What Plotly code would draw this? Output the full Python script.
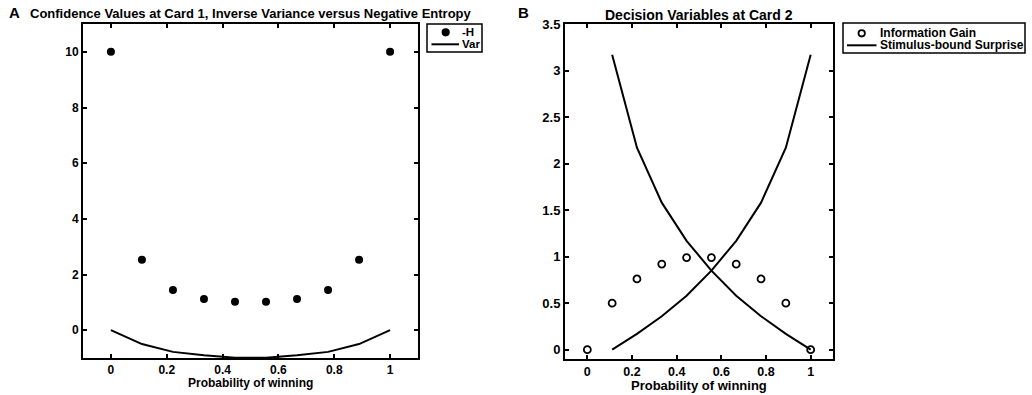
import plotly.graph_objects as go

# ---- data ----
p_all = [0, 1/9, 2/9, 3/9, 4/9, 5/9, 6/9, 7/9, 8/9, 1]
neg_H = [10, 2.53, 1.44, 1.12, 1.02, 1.02, 1.12, 1.44, 2.53, 10]
var_vals = [0, -0.50, -0.78, -0.90, -0.99, -0.99, -0.90, -0.78, -0.50, 0]

info_gain = [0, 0.50, 0.76, 0.92, 0.99, 0.99, 0.92, 0.76, 0.50, 0]
p_surp = [1/9, 2/9, 3/9, 4/9, 5/9, 6/9, 7/9, 8/9, 1]
surprise_down = [3.17, 2.17, 1.58, 1.17, 0.85, 0.58, 0.36, 0.17, 0]
surprise_up = [0, 0.17, 0.36, 0.58, 0.85, 1.17, 1.58, 2.17, 3.17]

x_ticks = [0, 0.2, 0.4, 0.6, 0.8, 1]
x_tick_text = ["0", "0.2", "0.4", "0.6", "0.8", "1"]
yA_ticks = [0, 2, 4, 6, 8, 10]
yB_ticks = [0, 0.5, 1, 1.5, 2, 2.5, 3, 3.5]
yB_tick_text = ["0", "0.5", "1", "1.5", "2", "2.5", "3", "3.5"]

legendA_labels = ["-H", "Var"]
legendB_labels = ["Information Gain", "Stimulus-bound Surprise"]

FONT = "Liberation Sans"
W, H = 1032, 395


def fx(v):
    return v / W


def fy(v):
    return 1 - v / H


def bold(size):
    return dict(family=FONT, size=size, color="black", weight="bold")


fig = go.Figure()

fig.add_trace(go.Scatter(x=p_all, y=neg_H, mode="markers", name=legendA_labels[0],
                         marker=dict(symbol="circle", size=8, color="black"),
                         xaxis="x", yaxis="y", showlegend=False))
fig.add_trace(go.Scatter(x=p_all, y=var_vals, mode="lines", name=legendA_labels[1],
                         line=dict(color="black", width=2),
                         xaxis="x", yaxis="y", showlegend=False))

fig.add_trace(go.Scatter(x=p_all, y=info_gain, mode="markers", name=legendB_labels[0],
                         marker=dict(symbol="circle-open", size=7, color="black",
                                     line=dict(width=1.8, color="black")),
                         xaxis="x2", yaxis="y2", showlegend=False))
fig.add_trace(go.Scatter(x=p_surp, y=surprise_down, mode="lines", name=legendB_labels[1],
                         line=dict(color="black", width=2),
                         xaxis="x2", yaxis="y2", showlegend=False))
fig.add_trace(go.Scatter(x=p_surp, y=surprise_up, mode="lines", name=legendB_labels[1],
                         line=dict(color="black", width=2), showlegend=False,
                         xaxis="x2", yaxis="y2"))


def axis_common(fs):
    return dict(showline=True, linecolor="black", linewidth=2, mirror="ticks",
                ticks="inside", ticklen=4, tickwidth=1.5, tickcolor="black",
                showgrid=False, zeroline=False, tickfont=bold(fs), automargin=False)


fig.update_layout(
    width=W, height=H,
    margin=dict(l=0, r=0, t=0, b=0),
    paper_bgcolor="white", plot_bgcolor="white",
    showlegend=False,
    xaxis=dict(domain=[fx(83), fx(418)], range=[-0.1, 1.1],
               tickvals=x_ticks, ticktext=x_tick_text, anchor="y", **axis_common(12)),
    yaxis=dict(domain=[fy(358), fy(24)], range=[-1, 11], tickvals=yA_ticks, anchor="x",
               **axis_common(12)),
    xaxis2=dict(domain=[fx(565), fx(833)], range=[-0.1, 1.1],
                tickvals=x_ticks, ticktext=x_tick_text, anchor="y2", **axis_common(12.5)),
    yaxis2=dict(domain=[fy(359), fy(24)], range=[-0.1, 3.5], tickvals=yB_ticks,
                ticktext=yB_tick_text, anchor="x2", **axis_common(13)),
)

annotations = [
    dict(text="A", x=fx(7), y=fy(13), xanchor="left", yanchor="middle", font=bold(15)),
    dict(text="B", x=fx(516), y=fy(13), xanchor="left", yanchor="middle", font=bold(15)),
    dict(text="Confidence Values at Card 1, Inverse Variance versus Negative Entropy",
         x=fx(251), y=fy(14), xanchor="center", yanchor="middle", font=bold(13)),
    dict(text="Decision Variables at Card 2",
         x=fx(699), y=fy(15), xanchor="center", yanchor="middle", font=bold(14)),
    dict(text="Probability of winning", x=fx(250.5), y=fy(382.5), xanchor="center",
         yanchor="middle", font=bold(12)),
    dict(text="Probability of winning", x=fx(699), y=fy(385), xanchor="center",
         yanchor="middle", font=bold(13)),
]

shapes = []


# ---- compact legends (MATLAB style) ----
def add_legend(box, marker_x, line_x0, line_x1, text_x, row_y, labels, filled, fs):
    x0, y0, x1, y1 = box
    shapes.append(dict(type="rect", xref="paper", yref="paper",
                       x0=fx(x0), x1=fx(x1), y0=fy(y1), y1=fy(y0),
                       line=dict(color="black", width=1.5), fillcolor="white", layer="above"))
    r = 3.2
    shapes.append(dict(type="circle", xref="paper", yref="paper",
                       x0=fx(marker_x - r), x1=fx(marker_x + r),
                       y0=fy(row_y[0] + r), y1=fy(row_y[0] - r),
                       line=dict(color="black", width=1.8),
                       fillcolor="black" if filled else "white", layer="above"))
    shapes.append(dict(type="line", xref="paper", yref="paper",
                       x0=fx(line_x0), x1=fx(line_x1), y0=fy(row_y[1]), y1=fy(row_y[1]),
                       line=dict(color="black", width=2), layer="above"))
    for lab, yy in zip(labels, row_y):
        annotations.append(dict(text=lab, x=fx(text_x), y=fy(yy), xanchor="left",
                                yanchor="middle", font=bold(fs)))


add_legend((427, 24, 482, 52), 445.7, 431.5, 459.0, 459.5, (32.3, 44.3), legendA_labels, True, 11.5)
add_legend((843, 23, 1025, 53), 861.7, 847, 876.5, 878.0, (33.3, 45.3), legendB_labels, False, 12)

for a in annotations:
    a.update(xref="paper", yref="paper", showarrow=False)

fig.update_layout(annotations=annotations, shapes=shapes)

fig.write_html("out.html", config={"displayModeBar": False},
               post_script="document.body.style.margin='0px';")
